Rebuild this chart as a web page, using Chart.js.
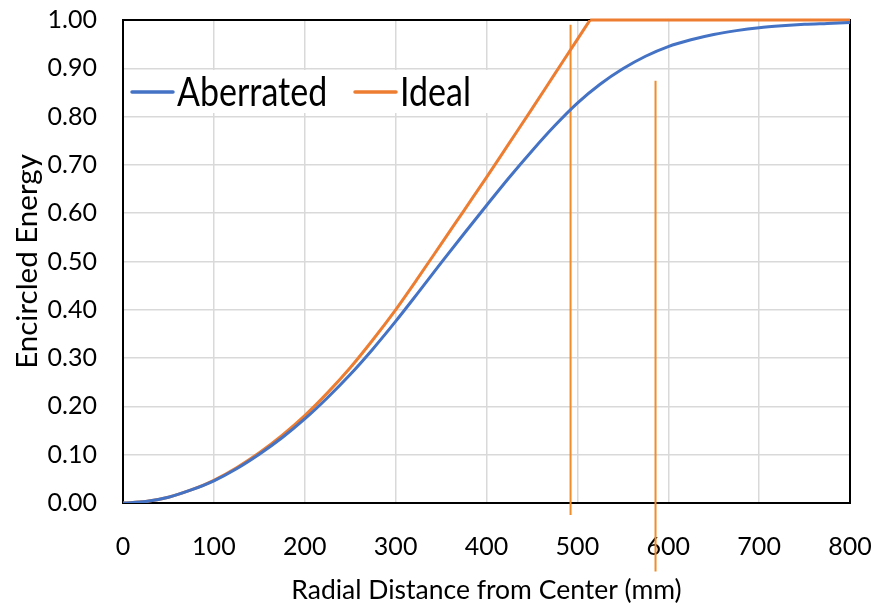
<!DOCTYPE html>
<html><head><meta charset="utf-8">
<script src="https://cdn.jsdelivr.net/npm/chart.js@4/dist/chart.umd.min.js"></script>
<style>html,body{margin:0;padding:0;background:#fff}#wrap{width:881px;height:608px}</style>
</head><body><div id="wrap"><canvas id="c" width="881" height="608"></canvas></div>
<script>
// Radial distance (mm) and encircled energy values
const radius = [0,25,50,75,100,125,150,175,200,225,250,275,300,325,350,375,400,425,450,475,500,525,550,575,600,625,650,675,700,725,750,775,800];
const aberrated = [0,0.003,0.012,0.027,0.046,0.071,0.101,0.135,0.174,0.218,0.266,0.319,0.376,0.436,0.497,0.557,0.616,0.674,0.729,0.781,0.828,0.867,0.899,0.925,0.945,0.959,0.970,0.978,0.984,0.988,0.991,0.993,0.995];
const idealRadius = [0,25,50,75,100,125,150,175,200,225,250,275,300,325,350,375,400,425,450,475,500,514];
const ideal = [0,0.003,0.012,0.027,0.047,0.073,0.104,0.140,0.181,0.228,0.280,0.338,0.400,0.467,0.536,0.605,0.674,0.745,0.816,0.888,0.960,1.0];
const plateauRadius = [514,800];
const plateau = [1.0,1.0];
const markerRadius = [492.5,586];
const markerTop = [0.99,0.874];
const markerBottom = [-0.025,-0.142];
const seriesNames = ['Aberrated','Ideal'];
const xTitle = 'Radial Distance from Center (mm)';
const yTitle = 'Encircled Energy';

const BLUE = '#4472C4', ORANGE = '#ED7D31', MARK = '#F28C28';
const FONT = 'Lato';
const pts = (xs, ys) => xs.map((x, i) => ({x, y: ys[i]}));

const datasets = [
  {label: seriesNames[0], data: pts(radius, aberrated), borderColor: BLUE, borderWidth: 3, pointRadius: 0, cubicInterpolationMode: 'monotone', fill: false},
  {label: seriesNames[1], data: pts(idealRadius, ideal), borderColor: ORANGE, borderWidth: 3, pointRadius: 0, cubicInterpolationMode: 'monotone', fill: false},
  {label: 'plateau', data: pts(plateauRadius, plateau), borderColor: ORANGE, borderWidth: 3, pointRadius: 0, tension: 0, fill: false, clip: false},
];
markerRadius.forEach((r, i) => {
  datasets.push({label: 'marker' + i, data: [{x: r, y: markerBottom[i]}, {x: r, y: markerTop[i]}], borderColor: MARK, borderWidth: 2, pointRadius: 0, tension: 0, clip: false});
});

const frame = {
  id: 'frame',
  beforeDatasetsDraw(chart) {
    const {ctx, chartArea: a} = chart;
    ctx.save();
    ctx.strokeStyle = '#000';
    ctx.lineWidth = 2;
    ctx.strokeRect(a.left, a.top, a.right - a.left, a.bottom - a.top);
    ctx.restore();
  },
  afterDatasetsDraw(chart) {
    const {ctx, chartArea: a} = chart;
    ctx.save();
    ctx.fillStyle = '#fff';
    ctx.fillRect(a.left + 2, 70, 367, 43);
    const items = [{c: BLUE, t: seriesNames[0], x: a.left + 9}, {c: ORANGE, t: seriesNames[1], x: a.left + 232}];
    ctx.font = '34px ' + FONT;
    ctx.textBaseline = 'alphabetic';
    items.forEach(it => {
      ctx.strokeStyle = it.c; ctx.lineWidth = 3.5; ctx.lineCap = 'round';
      ctx.beginPath(); ctx.moveTo(it.x, 92); ctx.lineTo(it.x + 41, 92); ctx.stroke();
      ctx.fillStyle = '#000';
      ctx.save(); ctx.translate(it.x + 45, 106); ctx.scale(1, 1.2); ctx.fillText(it.t, 0, 0); ctx.restore();
    });
    ctx.restore();
  }
};

new Chart(document.getElementById('c'), {
  type: 'line',
  data: {datasets},
  options: {
    responsive: false, animation: false, devicePixelRatio: 1,
    layout: {padding: {left: 0, top: 20, right: 31, bottom: 0}},
    plugins: {legend: {display: false}, tooltip: {enabled: false}},
    scales: {
      x: {
        type: 'linear', min: 0, max: 800,
        ticks: {stepSize: 100, color: '#000', font: {family: FONT, size: 25}, padding: 29},
        grid: {color: '#d9d9d9', lineWidth: 1.5, drawTicks: false},
        border: {color: '#000', width: 2},
        title: {display: true, text: xTitle, color: '#000', font: {family: FONT, size: 26.5}, padding: {top: 0, bottom: 2}},
        afterFit: s => { s.height = 105; s.paddingLeft = 0; s.paddingRight = 0; }
      },
      y: {
        type: 'linear', min: 0, max: 1,
        ticks: {stepSize: 0.1, color: '#000', font: {family: FONT, size: 25}, padding: 26, callback: v => Number(v).toFixed(2)},
        grid: {color: '#d9d9d9', lineWidth: 1.5, drawTicks: false},
        border: {color: '#000', width: 2},
        title: {display: true, text: yTitle, color: '#000', font: {family: FONT, size: 29.5}, padding: {top: 10, bottom: 0}},
        afterFit: s => { s.width = 123; s.paddingTop = 0; s.paddingBottom = 0; }
      }
    }
  },
  plugins: [frame]
});
</script>
</body></html>
